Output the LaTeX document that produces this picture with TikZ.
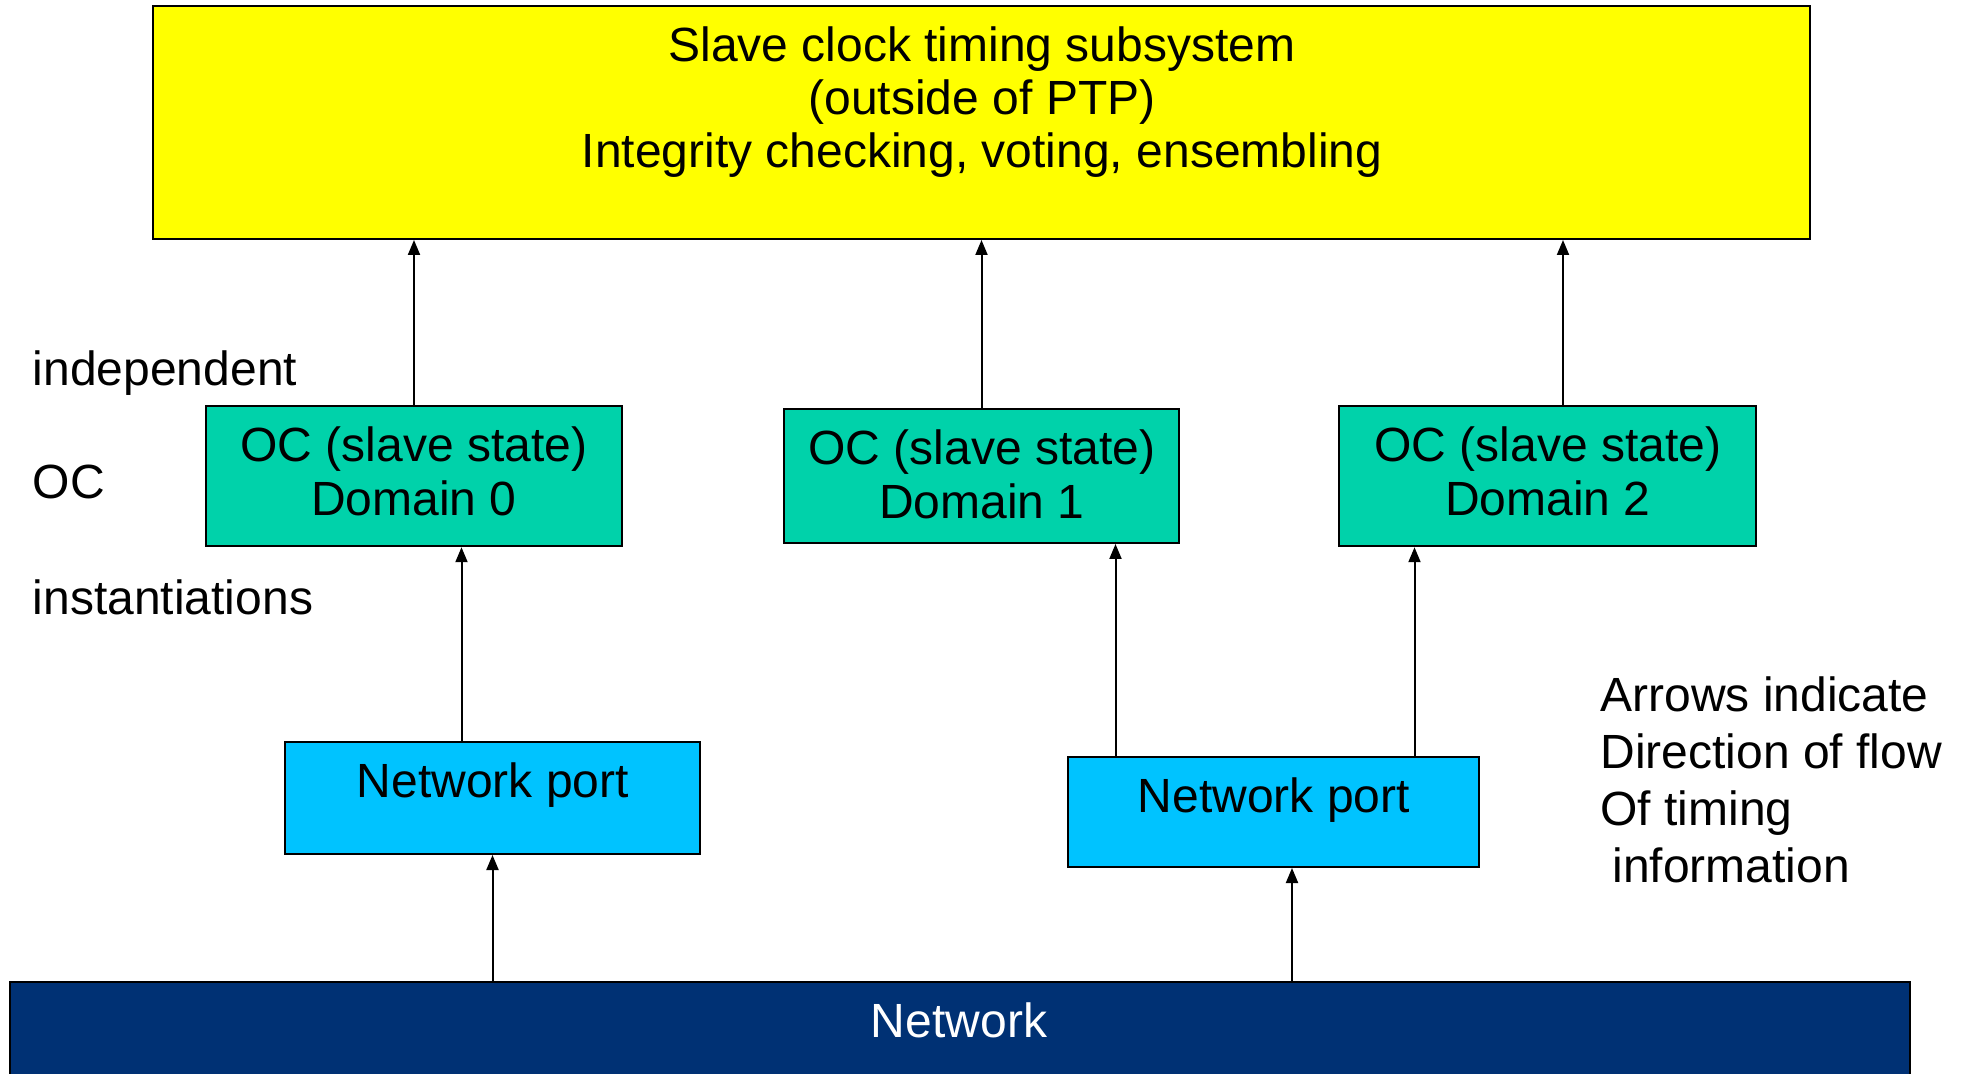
\documentclass[tikz,border=0pt]{standalone}
\usepackage{fontspec}
\setmainfont{Liberation Sans}
\usetikzlibrary{arrows.meta}
\definecolor{topyellow}{HTML}{FFFF00}
\definecolor{octeal}{HTML}{00D2AA}
\definecolor{portcyan}{HTML}{00C3FF}
\definecolor{netnavy}{HTML}{003174}
\begin{document}
\begin{tikzpicture}[x=0.5pt,y=-0.5pt,
  box/.style={draw=black, line width=1pt, rectangle, inner sep=0pt},
  txt/.style={font=\fontsize{24}{26.5}\selectfont, align=center, inner sep=0pt},
  octxt/.style={font=\fontsize{24}{27}\selectfont, align=center, inner sep=0pt},
  sidetxt/.style={font=\fontsize{24}{28.5}\selectfont, align=left, inner sep=0pt, anchor=west},
  arr/.style={draw=black, line width=1pt, -{Triangle[length=7.5pt,width=6pt]}}
]
\useasboundingbox (0,0) rectangle (1961,1074);

% top subsystem box
\node[box, fill=topyellow, minimum width=828.5pt, minimum height=116.5pt] (top) at (981.1,122.5) {};
\node[txt] (toptext) at (982,102) {Slave clock timing subsystem\\(outside of PTP)\\Integrity checking, voting, ensembling};

% OC boxes
\node[box, fill=octeal, minimum width=208pt, minimum height=70.25pt] (oc0) at (414,476) {};
\node[octxt] (oc0t) at (414,471) {OC (slave state)\\Domain 0};
\node[box, fill=octeal, minimum width=197.5pt, minimum height=67pt] (oc1) at (981.5,476) {};
\node[octxt] (oc1t) at (982,474) {OC (slave state)\\Domain 1};
\node[box, fill=octeal, minimum width=208.5pt, minimum height=70.25pt] (oc2) at (1547.5,476) {};
\node[octxt] (oc2t) at (1548,471) {OC (slave state)\\Domain 2};

% network ports
\node[box, fill=portcyan, minimum width=207.5pt, minimum height=56pt] (np0) at (492.5,798) {};
\node[txt] (np0t) at (493,785) {Network port};
\node[box, fill=portcyan, minimum width=205.5pt, minimum height=55pt] (np1) at (1273.5,812) {};
\node[txt] (np1t) at (1274,800) {Network port};

% network
\node[box, fill=netnavy, minimum width=950pt, minimum height=49pt] (net) at (960,1031) {};
\node[txt, text=white] (nett) at (959,1020) {Network};

% side labels
\node[sidetxt] (lab1) at (32.5,373) {independent};
\node[sidetxt] (lab2) at (32.5,482) {OC};
\node[sidetxt] (lab3) at (32.5,597) {instantiations};
\node[sidetxt] (note) at (1600,779.5) {Arrows indicate\\Direction of flow\\Of timing\\\hspace*{6pt}information};

% connectors
\draw[arr] (oc0.north) -- (oc0.north |- top.south);
\draw[arr] (oc1.north) -- (oc1.north |- top.south);
\coordinate (a2) at ([xshift=7.75pt]oc2.north);
\draw[arr] (a2) -- (a2 |- top.south);

\coordinate (b0) at ([xshift=-15.5pt]np0.north);
\draw[arr] (b0) -- (b0 |- oc0.south);
\coordinate (b1) at ([xshift=-79pt]np1.north);
\draw[arr] (b1) -- (b1 |- oc1.south);
\coordinate (b2) at ([xshift=70.5pt]np1.north);
\draw[arr] (b2) -- (b2 |- oc2.south);

\coordinate (c0) at (net.north -| np0.south);
\draw[arr] (c0) -- (np0.south);
\coordinate (c1) at ([xshift=9.25pt]np1.south);
\draw[arr] (c1 |- net.north) -- (c1);
\end{tikzpicture}
\end{document}
